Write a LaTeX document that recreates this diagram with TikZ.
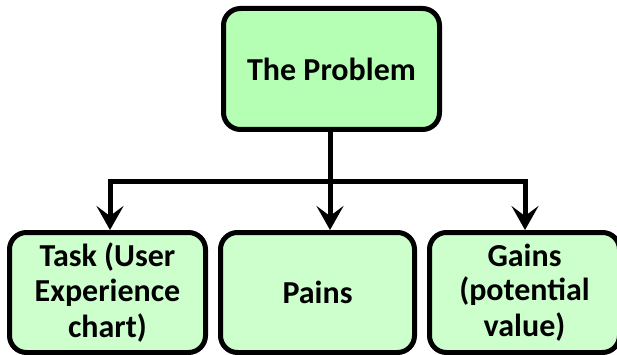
\documentclass[tikz,border=0pt]{standalone}
\usepackage{fontspec}
\setmainfont{Carlito}
\usetikzlibrary{arrows.meta}
\definecolor{headfill}{RGB}{181,255,181}
\definecolor{leaffill}{RGB}{204,255,204}
\begin{document}
\begin{tikzpicture}[x=1pt,y=-1pt,
  box/.style={draw=black,line width=5pt,rounded corners=17pt,align=center,
    inner sep=0pt,font=\fontsize{32}{35.5}\selectfont\bfseries},
  headbox/.style={box,fill=headfill},
  leafbox/.style={box,fill=leaffill,minimum height=120pt},
  wire/.style={line width=5pt},
  arr/.style={wire,-{Stealth[length=24pt,width=27pt,inset=10pt]}}]
\useasboundingbox (0,0) rectangle (617,355);
% top of the tree
\node[headbox,minimum width=216pt,minimum height=121pt] (top) at (331.5,69) {The Problem};
% the three branches
\node[leafbox,minimum width=196pt] (task) at (107.5,292.5) {Task (User\\Experience\\chart)};
\node[leafbox,minimum width=194pt] (pains) at (317.5,292.5) {Pains};
\node[leafbox,minimum width=190pt] (gains) at (524.5,292.5) {Gains\\[-1pt](potential\\value)};
% distribution bus
\coordinate (hub) at (330,182);
\coordinate (bl) at (110,182);
\coordinate (br) at (525,182);
\draw[wire] (top.south -| hub) -- (hub);
\draw[arr] (hub) -| (bl |- task.north);
\draw[arr] (hub) -| (br |- gains.north);
\draw[arr] (hub) -- (hub |- pains.north);
\end{tikzpicture}
\end{document}
